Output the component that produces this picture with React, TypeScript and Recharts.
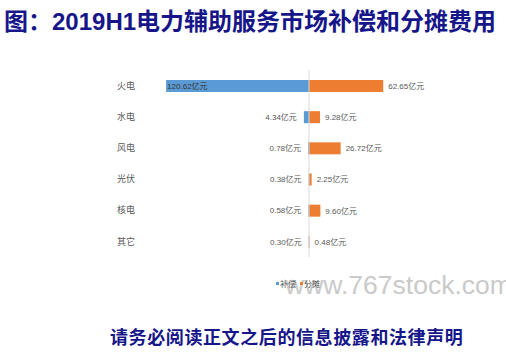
import { Bar, BarChart, LabelList, Legend, ReferenceLine, XAxis, YAxis } from "recharts";

const categories = ["火电", "水电", "风电", "光伏", "核电", "其它"];
const compensation = [120.62, 4.34, 0.78, 0.38, 0.58, 0.3];
const allocation = [62.65, 9.28, 26.72, 2.25, 9.6, 0.48];
const seriesNames = ["补偿", "分摊"];

const BLUE = "#5b9bd5";
const ORANGE = "#ed7d31";
const NAVY = "#16168a";

const data = categories.map((name, i) => ({
  name,
  comp: -compensation[i],
  alloc: allocation[i],
}));

const fmt = (v: number) => `${Math.abs(v).toFixed(2)}亿元`;

function CompLabel(props: any) {
  const { x, y, width, height, value } = props;
  const left = Math.min(Number(x), Number(x) + Number(width));
  const w = Math.abs(Number(width));
  const cy = Number(y) + Number(height) / 2;
  if (w > 60) {
    return (
      <text x={left + 1} y={cy} dy="0.35em" textAnchor="start" fontSize={8} fill="#333">
        {fmt(value)}
      </text>
    );
  }
  return (
    <text x={left - 7} y={cy} dy="0.35em" textAnchor="end" fontSize={8} fill="#595959">
      {fmt(value)}
    </text>
  );
}

function LegendBox({ payload }: any) {
  const items = seriesNames
    .map((n) => (payload || []).find((p: any) => p.value === n))
    .filter(Boolean);
  return (
    <div style={{ display: "flex", gap: 4, fontSize: 8, color: "#595959" }}>
      {items.map((item: any) => (
        <span key={item.value} style={{ display: "flex", alignItems: "center", gap: 1 }}>
          <span style={{ width: 3, height: 3, backgroundColor: item.color }} />
          {item.value}
        </span>
      ))}
    </div>
  );
}

export default function App() {
  return (
    <div
      style={{
        position: "absolute",
        left: 0,
        top: 0,
        width: 506,
        height: 356,
        background: "#fff",
        fontFamily: '"Liberation Sans", "Noto Sans CJK SC", sans-serif',
        overflow: "hidden",
      }}
    >
      <div
        style={{
          position: "absolute",
          left: 4,
          top: 9,
          fontSize: 24,
          lineHeight: "25px",
          fontWeight: 700,
          color: NAVY,
          whiteSpace: "nowrap",
        }}
      >
        图：2019H1电力辅助服务市场补偿和分摊费用
      </div>
      <div
        style={{
          position: "absolute",
          left: 285,
          top: 270,
          fontSize: 26.5,
          lineHeight: "31px",
          color: "#cacaca",
          whiteSpace: "nowrap",
        }}
      >
        www.767stock.com
      </div>
      <BarChart
        width={506}
        height={356}
        layout="vertical"
        data={data}
        stackOffset="sign"
        margin={{ top: 70, right: 43, bottom: 88, left: 115 }}
        style={{ position: "absolute", left: 0, top: 0, fontFamily: '"Liberation Sans", "Noto Sans CJK SC", sans-serif' }}
      >
        <XAxis type="number" domain={[-130, 130]} hide />
        <YAxis
          type="category"
          dataKey="name"
          width={40}
          axisLine={false}
          tickLine={false}
          tickMargin={14}
          tick={{ fontSize: 9, fill: "#595959" }}
        />
        <ReferenceLine x={0} stroke="#d9d9d9" />
        <Bar dataKey="comp" name={seriesNames[0]} stackId="a" fill={BLUE} barSize={12} isAnimationActive={false}>
          <LabelList dataKey="comp" content={CompLabel} />
        </Bar>
        <Bar dataKey="alloc" name={seriesNames[1]} stackId="a" fill={ORANGE} barSize={12} isAnimationActive={false}>
          <LabelList
            dataKey="alloc"
            position="right"
            offset={5}
            fontSize={8}
            fill="#595959"
            formatter={(v: any) => fmt(Number(v))}
          />
        </Bar>
        <Legend
          content={LegendBox}
          wrapperStyle={{ position: "absolute", left: 276, top: 278, width: "auto" }}
        />
      </BarChart>
      <div
        style={{
          position: "absolute",
          left: 110,
          top: 328,
          fontSize: 18,
          letterSpacing: 0.6,
          lineHeight: "20px",
          fontWeight: 700,
          color: NAVY,
          whiteSpace: "nowrap",
        }}
      >
        请务必阅读正文之后的信息披露和法律声明
      </div>
    </div>
  );
}
